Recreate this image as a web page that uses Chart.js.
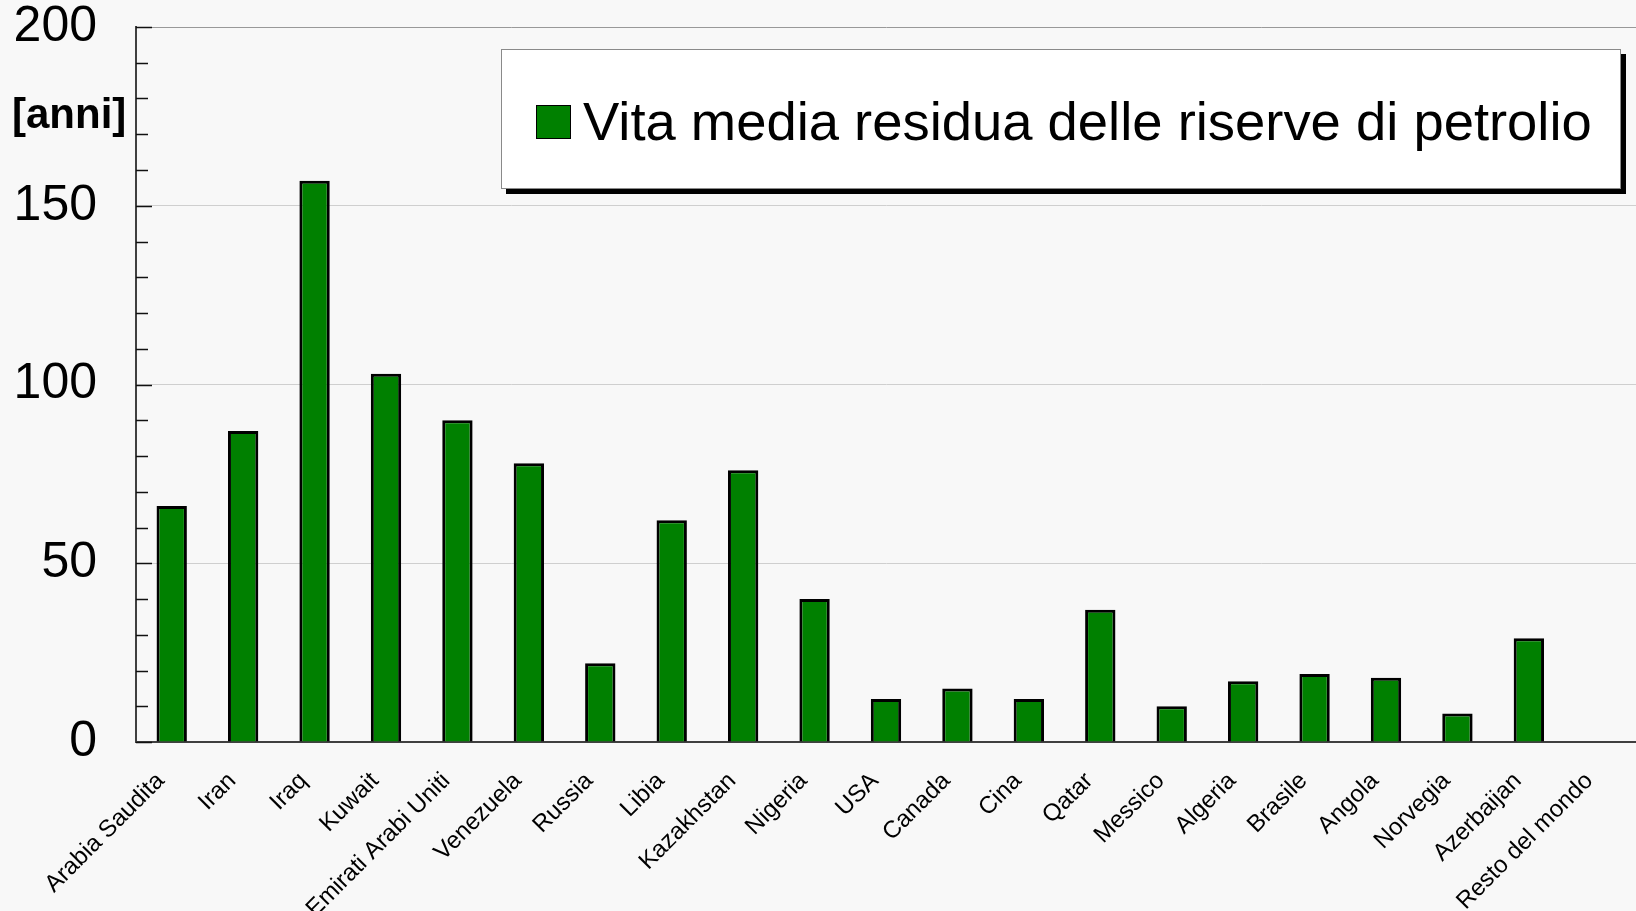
<!DOCTYPE html>
<html lang="it">
<head>
<meta charset="utf-8">
<title>Vita media residua delle riserve di petrolio</title>
<script src="https://cdn.jsdelivr.net/npm/chart.js@4"></script>
<style>
  html, body { margin: 0; padding: 0; background: #f8f8f8; }
  #wrap { position: relative; width: 1636px; height: 911px; overflow: hidden; }
  #legend {
    position: absolute; left: 501px; top: 49px; width: 1118px; height: 138px;
    background: #fff; border: 1px solid #8a8a8a; box-shadow: 5px 5px 0 #000;
    display: flex; align-items: center;
    font-family: "Liberation Sans", Arial, sans-serif; font-size: 54.4px; color: #000;
  }
  #legend .box { width: 33px; height: 32px; border: 1px solid #000; margin: 5px 12px 0 34px; }
  #legend .txt { position: relative; top: 2px; }
</style>
</head>
<body>
<div id="wrap">
  <canvas id="myChart" width="1636" height="911"></canvas>
  <div id="legend"></div>
</div>
<script>
'use strict';

// paesi e anni di vita residua delle riserve
let countries = ['Arabia Saudita', 'Iran', 'Iraq', 'Kuwait', 'Emirati Arabi Uniti', 'Venezuela',
  'Russia', 'Libia', 'Kazakhstan', 'Nigeria', 'USA', 'Canada', 'Cina', 'Qatar', 'Messico',
  'Algeria', 'Brasile', 'Angola', 'Norvegia', 'Azerbaijan', 'Resto del mondo'];
let years = [66, 87, 157, 103, 90, 78, 22, 62, 76, 40, 12, 15, 12, 37, 10, 17, 19, 18, 8, 29, null];
let yTicks = [0, 50, 100, 150, 200];
let seriesName = 'Vita media residua delle riserve di petrolio';
let unitLabel = '[anni]';

const FONT = '"Liberation Sans", Arial, sans-serif';

// tacche interne sull'asse y (ogni 10) + etichetta unità
const innerTicks = {
  id: 'innerTicks',
  afterDraw(chart){
    let ctx = chart.ctx;
    let y = chart.scales.y;
    let left = chart.chartArea.left;
    ctx.save();
    ctx.strokeStyle = '#111';
    ctx.lineWidth = 1.5;
    for(let v = yTicks[0]; v <= yTicks[yTicks.length - 1]; v += 10){
      let py = Math.round(y.getPixelForValue(v)) + 0.5;
      let len = v % 50 === 0 ? 16 : 12;
      ctx.beginPath();
      ctx.moveTo(left, py);
      ctx.lineTo(left + len, py);
      ctx.stroke();
    }
    ctx.fillStyle = '#000';
    ctx.font = 'bold 42px ' + FONT;
    ctx.textAlign = 'left';
    ctx.textBaseline = 'middle';
    ctx.fillText(unitLabel, 12, y.getPixelForValue(175));
    ctx.restore();
  }
};

const ctx = document.getElementById('myChart');

let chart = new Chart(ctx, {
  type: 'bar',
  data: {
    labels: countries,
    datasets: [{
      label: seriesName,
      data: years,
      backgroundColor: '#008000',
      borderColor: '#000',
      borderWidth: 3,
      barPercentage: 0.425,
      categoryPercentage: 1
    }]
  },
  options: {
    responsive: false,
    animation: false,
    layout: { padding: 0 },
    plugins: {
      legend: { display: false },
      tooltip: { enabled: false }
    },
    scales: {
      x: {
        grid: { display: false, drawTicks: false },
        border: { color: '#404040', width: 2 },
        ticks: {
          autoSkip: false,
          minRotation: 45,
          maxRotation: 45,
          padding: 25,
          labelOffset: -11,
          color: '#000',
          font: { family: FONT, size: 24 }
        },
        afterFit(scale){
          scale.height = 169;
          // l'asse arriva fino al bordo destro
          scale.paddingLeft = 0;
          scale.paddingRight = 0;
        }
      },
      y: {
        min: 0,
        max: 200,
        afterBuildTicks(scale){ scale.ticks = yTicks.map(v => ({ value: v })); },
        grid: {
          drawTicks: false,
          color: c => c.tick.value === 200 ? '#999' : (c.tick.value === 0 ? 'rgba(0,0,0,0)' : '#cfcfcf')
        },
        border: { color: '#404040', width: 2 },
        ticks: {
          padding: 39,
          color: '#000',
          font: { family: FONT, size: 50, lineHeight: 1 }
        },
        afterFit(scale){
          scale.width = 136;
          // la padding delle etichette non deve spingere giù l'area del grafico
          scale.paddingTop = 27;
          scale.paddingBottom = 0;
        }
      }
    }
  },
  plugins: [innerTicks]
});

// legenda html sopra l'area del grafico
let legendEl = document.getElementById('legend');
chart.data.datasets.forEach(ds => {
  let box = document.createElement('span');
  box.className = 'box';
  box.style.background = ds.backgroundColor;
  let txt = document.createElement('span');
  txt.className = 'txt';
  txt.textContent = ds.label;
  legendEl.appendChild(box);
  legendEl.appendChild(txt);
});
</script>
</body>
</html>
